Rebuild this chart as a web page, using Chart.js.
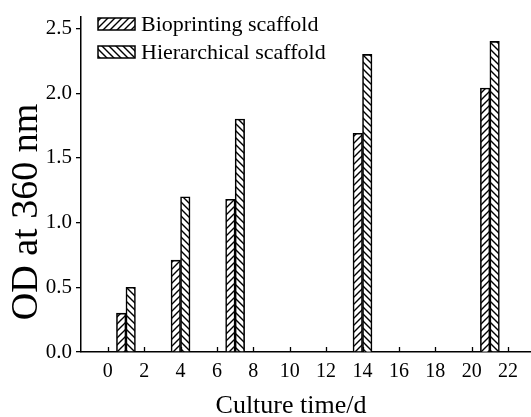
<!DOCTYPE html>
<html>
<head>
<meta charset="utf-8">
<script src="https://cdn.jsdelivr.net/npm/chart.js@4"></script>
<style>
  html, body { margin: 0; padding: 0; background: #fff; }
  #wrap { width: 531px; height: 417px; }
</style>
</head>
<body>
<div id="wrap"><canvas id="chart" width="531" height="417"></canvas></div>
<script>
// dados
const days = [1, 4, 7, 14, 21];
const bioprinting = [0.30, 0.71, 1.18, 1.69, 2.04];
const hierarchical = [0.50, 1.20, 1.80, 2.30, 2.40];
const seriesNames = ['Bioprinting scaffold', 'Hierarchical scaffold'];
const xTicks = [0, 2, 4, 6, 8, 10, 12, 14, 16, 18, 20, 22];
const yTicks = [0, 0.5, 1.0, 1.5, 2.0, 2.5];
const xTitle = 'Culture time/d';
const yTitle = 'OD at 360 nm';

const FONT = '"Liberation Serif", "Times New Roman", serif';

// textura hachurada: dir > 0 => "/", dir < 0 => "\"
function hatch(dir) {
    const s = 7;
    const c = document.createElement('canvas');
    c.width = s; c.height = s;
    const g = c.getContext('2d');
    g.fillStyle = '#fff';
    g.fillRect(0, 0, s, s);
    g.strokeStyle = '#000';
    g.lineWidth = 1.4;
    g.beginPath();
    if (dir > 0) {
        g.moveTo(-1, s + 1); g.lineTo(s + 1, -1);
        g.moveTo(-1, 1); g.lineTo(1, -1);
        g.moveTo(s - 1, s + 1); g.lineTo(s + 1, s - 1);
    } else {
        g.moveTo(-1, -1); g.lineTo(s + 1, s + 1);
        g.moveTo(s - 1, -1); g.lineTo(s + 1, 1);
        g.moveTo(-1, s - 1); g.lineTo(1, s + 1);
    }
    g.stroke();
    return g.createPattern(c, 'repeat');
}

const patterns = [hatch(1), hatch(-1)];

// ticks do eixo x para dentro, títulos e legenda
const decor = {
    id: 'decor',
    afterDraw(chart) {
        const { ctx, scales: { x }, chartArea } = chart;
        ctx.save();
        ctx.strokeStyle = '#000';
        ctx.lineWidth = 1.3;
        ctx.beginPath();
        xTicks.forEach(v => {
            const px = Math.round(x.getPixelForValue(v)) + 0.5;
            ctx.moveTo(px, chartArea.bottom);
            ctx.lineTo(px, chartArea.bottom - 5);
        });
        ctx.stroke();

        ctx.fillStyle = '#000';
        ctx.font = `26px ${FONT}`;
        ctx.textAlign = 'center';
        ctx.textBaseline = 'alphabetic';
        ctx.fillText(xTitle, 291, 413);

        ctx.save();
        ctx.translate(37, 212);
        ctx.rotate(-Math.PI / 2);
        ctx.font = `38px ${FONT}`;
        ctx.fillText(yTitle, 0, 0);
        ctx.restore();

        // legenda
        ctx.font = `22px ${FONT}`;
        ctx.textAlign = 'left';
        ctx.textBaseline = 'middle';
        chart.data.datasets.forEach((ds, i) => {
            const cy = 24 + i * 28;
            ctx.fillStyle = ds.backgroundColor;
            ctx.fillRect(98, cy - 6, 37, 12);
            ctx.lineWidth = 1.5;
            ctx.strokeRect(98, cy - 6, 37, 12);
            ctx.fillStyle = '#000';
            ctx.fillText(ds.label, 141, cy + 1);
        });
        ctx.restore();
    }
};

const barStyle = {
    borderColor: '#000',
    borderWidth: 1.6,
    barThickness: 9.5
};

new Chart(document.getElementById('chart'), {
    type: 'bar',
    data: {
        datasets: [
            {
                label: seriesNames[0],
                data: days.map((d, i) => ({ x: d, y: bioprinting[i] })),
                backgroundColor: patterns[0],
                ...barStyle
            },
            {
                label: seriesNames[1],
                data: days.map((d, i) => ({ x: d, y: hierarchical[i] })),
                backgroundColor: patterns[1],
                ...barStyle
            }
        ]
    },
    options: {
        responsive: false,
        animation: false,
        layout: { padding: { top: 13, right: 0, left: 0, bottom: 0 } },
        plugins: {
            legend: { display: false },
            tooltip: { enabled: false }
        },
        scales: {
            x: {
                type: 'linear',
                min: -1.47,
                max: 23.26,
                offset: false,
                grid: { display: true, offset: false, drawOnChartArea: false, drawTicks: false },
                border: { display: true, color: '#000', width: 1.5 },
                ticks: {
                    color: '#000',
                    font: { family: FONT, size: 20 },
                    padding: 8,
                    maxRotation: 0,
                    callback: v => String(v)
                },
                afterBuildTicks: s => { s.ticks = xTicks.map(v => ({ value: v })); },
                afterFit: s => { s.height = 65; }
            },
            y: {
                min: 0,
                max: 2.592,
                grid: { display: true, drawOnChartArea: false, drawTicks: true, tickLength: 5, color: '#000', lineWidth: 1.3 },
                border: { display: true, color: '#000', width: 1.5 },
                ticks: {
                    color: '#000',
                    font: { family: FONT, size: 21 },
                    padding: 4,
                    callback: v => Number(v).toFixed(1)
                },
                afterBuildTicks: s => { s.ticks = yTicks.map(v => ({ value: v })); },
                afterFit: s => { s.width = 81; }
            }
        }
    },
    plugins: [decor]
});
</script>
</body>
</html>
